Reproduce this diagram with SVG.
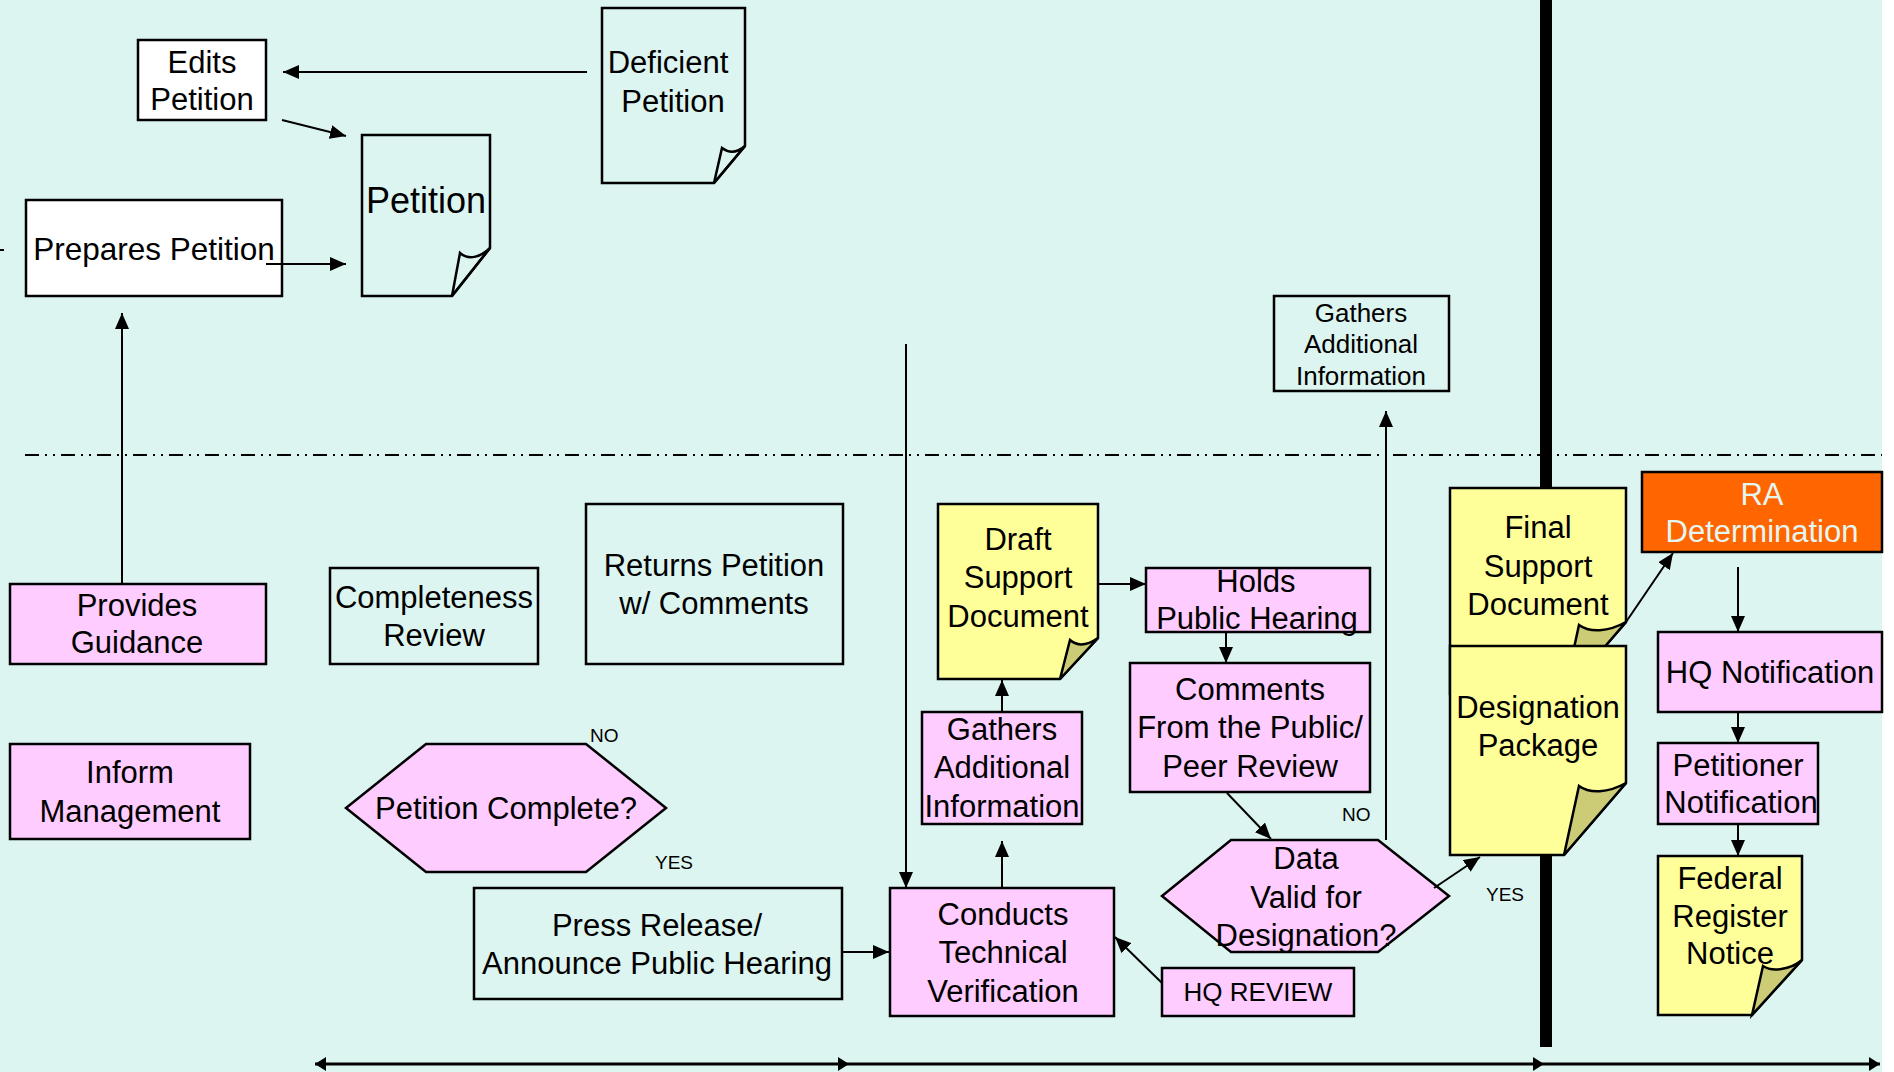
<svg xmlns="http://www.w3.org/2000/svg" width="1894" height="1072" viewBox="0 0 1894 1072">
<style>
.b{stroke:#000;stroke-width:2.5}
.n{fill:none}
.w{fill:#fff}
.p{fill:#FFCCFF}
.y{fill:#FFFF99}
.f{fill:#CCCC77}
.o{fill:#FF6600}
text{font-family:"Liberation Sans",Arial,sans-serif;font-size:31px;text-anchor:middle;fill:#000}
.s{font-size:19px;text-anchor:start}
.c{stroke:#000;stroke-width:2;fill:none;marker-end:url(#ah)}
</style>
<defs>
<marker id="ah" markerUnits="userSpaceOnUse" markerWidth="16" markerHeight="14" refX="16" refY="7" orient="auto"><path d="M0,0 L16,7 L0,14 Z" fill="#000"/></marker>
</defs>
<rect x="0" y="0" width="1894" height="1072" fill="#fff"/>
<rect x="0" y="0" width="1882" height="1072" fill="#DDF5F1"/>
<path d="M25,455 H1882" stroke="#000" stroke-width="2" stroke-dasharray="14 6 2 6 2 6"/>
<rect x="1540" y="0" width="12" height="1047" fill="#000"/>

<g id="edits-petition"><rect class="b w" x="138" y="40" width="128" height="80"/><text x="202" y="73">Edits</text><text x="202" y="110">Petition</text></g>
<g id="deficient-petition"><path class="b n" d="M602,8 H745 V146 L714,183 H602 Z"/><path class="b n" d="M714,183 L722,148 C730,154 738,152 745,146 Z"/><text x="668" y="73">Deficient</text><text x="673" y="112">Petition</text></g>
<g id="petition"><path class="b n" d="M362,135 H490 V248 L452,296 H362 Z"/><path class="b n" d="M452,296 L460,253 C468,260 480,258 490,248 Z"/><text x="426" y="213" style="font-size:36px">Petition</text></g>
<g id="prepares-petition"><rect class="b w" x="26" y="200" width="256" height="96"/><text x="154" y="260" style="font-size:31.5px">Prepares Petition</text></g>
<g id="gathers-top"><rect class="b n" x="1274" y="296" width="175" height="95"/><text x="1361" y="322" style="font-size:26px">Gathers</text><text x="1361" y="353" style="font-size:26px">Additional</text><text x="1361" y="385" style="font-size:26px">Information</text></g>

<g id="provides-guidance"><rect class="b p" x="10" y="584" width="256" height="80"/><text x="137" y="616">Provides</text><text x="137" y="653">Guidance</text></g>
<g id="completeness-review"><rect class="b n" x="330" y="568" width="208" height="96"/><text x="434" y="608">Completeness</text><text x="434" y="646">Review</text></g>
<g id="returns-petition"><rect class="b n" x="586" y="504" width="257" height="160"/><text x="714" y="576">Returns Petition</text><text x="714" y="614">w/ Comments</text></g>
<g id="inform-management"><rect class="b p" x="10" y="744" width="240" height="95"/><text x="130" y="783">Inform</text><text x="130" y="822">Management</text></g>
<g id="petition-complete"><path class="b p" d="M346,808 L426,744 H586 L666,808 L586,872 H426 Z"/><text x="506" y="819">Petition Complete?</text><text class="s" x="590" y="742">NO</text><text class="s" x="655" y="869">YES</text></g>
<g id="press-release"><rect class="b n" x="474" y="888" width="368" height="111"/><text x="657" y="936">Press Release/</text><text x="657" y="974">Announce Public Hearing</text></g>
<g id="conducts-verification"><rect class="b p" x="890" y="888" width="224" height="128"/><text x="1003" y="925">Conducts</text><text x="1003" y="963">Technical</text><text x="1003" y="1002">Verification</text></g>
<g id="gathers-lower"><rect class="b p" x="922" y="712" width="160" height="112"/><text x="1002" y="740">Gathers</text><text x="1002" y="778">Additional</text><text x="1002" y="817">Information</text></g>
<g id="draft-support"><path class="b y" d="M938,504 H1098 V638 L1060,679 H938 Z"/><path class="b f" d="M1060,679 L1070,640 C1078,647 1088,645 1098,638 Z"/><text x="1018" y="550">Draft</text><text x="1018" y="588">Support</text><text x="1018" y="627">Document</text></g>
<g id="holds-hearing"><rect class="b p" x="1146" y="568" width="224" height="64"/><text x="1256" y="592">Holds</text><text x="1257" y="629">Public Hearing</text></g>
<g id="comments"><rect class="b p" x="1130" y="663" width="240" height="129"/><text x="1250" y="700">Comments</text><text x="1250" y="738">From the Public/</text><text x="1250" y="777">Peer Review</text></g>
<g id="data-valid"><path class="b p" d="M1162,896 L1231,840 H1378 L1449,896 L1378,952 H1231 Z"/><text x="1306" y="869">Data</text><text x="1306" y="908">Valid for</text><text x="1306" y="946">Designation?</text><text class="s" x="1342" y="821">NO</text><text class="s" x="1486" y="901">YES</text></g>
<g id="hq-review"><rect class="b p" x="1162" y="968" width="192" height="48"/><text x="1258" y="1001" style="font-size:26px">HQ REVIEW</text></g>
<g id="final-support"><path class="b y" d="M1450,488 H1626 V622 L1564,694 H1450 Z"/><path class="b f" d="M1564,694 L1579,625 C1590,633 1608,632 1626,622 Z"/><text x="1538" y="538">Final</text><text x="1538" y="577">Support</text><text x="1538" y="615">Document</text></g>
<g id="designation-package"><path class="b y" d="M1450,646 H1626 V783 L1564,855 H1450 Z"/><path class="b f" d="M1564,855 L1579,786 C1590,794 1608,793 1626,783 Z"/><text x="1538" y="718">Designation</text><text x="1538" y="756">Package</text></g>
<g id="ra-determination"><rect class="b o" x="1642" y="472" width="240" height="80"/><text x="1762" y="505" style="fill:#E4F6F2">RA</text><text x="1762" y="542" style="fill:#E4F6F2">Determination</text></g>
<g id="hq-notification"><rect class="b p" x="1658" y="632" width="224" height="80"/><text x="1770" y="683">HQ Notification</text></g>
<g id="petitioner-notification"><rect class="b p" x="1658" y="743" width="160" height="81"/><text x="1738" y="776">Petitioner</text><text x="1741" y="813">Notification</text></g>
<g id="federal-register"><path class="b y" d="M1658,856 H1802 V960 L1752,1015 H1658 Z"/><path class="b f" d="M1752,1015 L1763,966 C1772,972 1790,970 1802,960 Z"/><text x="1730" y="889">Federal</text><text x="1730" y="927">Register</text><text x="1730" y="964">Notice</text></g>

<g id="connectors">
<path d="M0,250 H4" stroke="#000" stroke-width="2"/>
<path class="c" d="M587,72 L283,72"/>
<path class="c" d="M282,120 L346,136"/>
<path class="c" d="M266,264 L346,264"/>
<path class="c" d="M122,584 L122,313"/>
<path class="c" d="M906,344 L906,888"/>
<path class="c" d="M842,952 L889,952"/>
<path class="c" d="M1002,888 L1002,841"/>
<path class="c" d="M1002,712 L1002,680"/>
<path class="c" d="M1098,584 L1146,584"/>
<path class="c" d="M1226,632 L1226,663"/>
<path class="c" d="M1227,793 L1271,839"/>
<path class="c" d="M1386,840 L1386,411"/>
<path class="c" d="M1434,888 L1480,857"/>
<path class="c" d="M1162,983 L1115,937"/>
<path class="c" d="M1626,622 L1673,553"/>
<path class="c" d="M1738,567 L1738,632"/>
<path class="c" d="M1738,712 L1738,743"/>
<path class="c" d="M1738,824 L1738,856"/>
<path d="M315,1064 H1880" stroke="#000" stroke-width="3"/>
<path d="M315,1064 L326,1057 L326,1071 Z M849,1064 L838,1057 L838,1071 Z M1544,1064 L1533,1057 L1533,1071 Z M1880,1064 L1869,1057 L1869,1071 Z" fill="#000"/>
</g>
</svg>
